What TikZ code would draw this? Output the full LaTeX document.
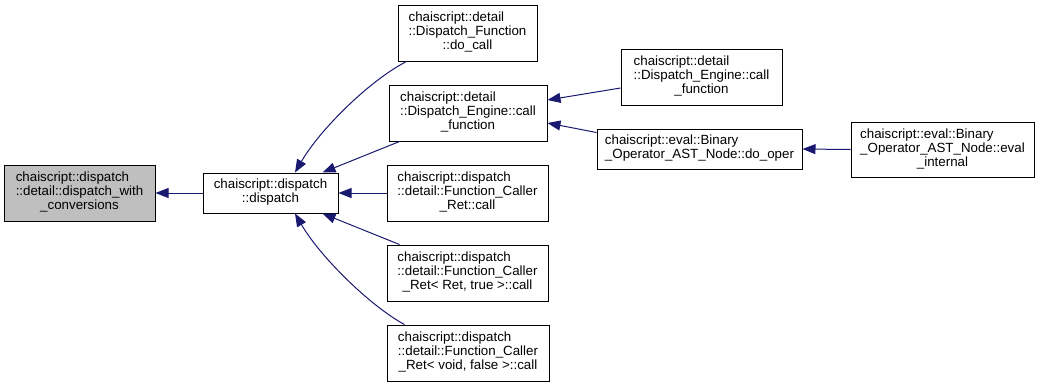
\documentclass[tikz,border=0pt]{standalone}
\usepackage{fontspec}
\setmainfont{Liberation Sans}
\usetikzlibrary{arrows.meta}
\definecolor{edgeblue}{RGB}{25,25,112}
\definecolor{selgray}{RGB}{191,191,191}
\def\px{0.75pt}
% leading lines flush left, last line centred
\newcommand{\fnlbl}[2]{\begin{tabular}{@{}l@{}}#1\\\multicolumn{1}{@{}c@{}}{#2}\end{tabular}}
\begin{document}
\begin{tikzpicture}[x=\px,y=-\px,line join=miter,
	font=\fontsize{10pt}{10.5pt}\selectfont,
	fn/.style={draw=black,line width=\px,fill=white,inner sep=0pt},
	edge/.style={draw=edgeblue,line width=\px,-{Triangle[length=9.75pt,width=7.5pt]}}]
	\useasboundingbox (0,0) rectangle (1040,387);
	% the function itself and its direct caller
	\node[fn,fill=selgray,minimum width=151*\px,minimum height=56*\px] (conv) at (79.5,193)
		{\fnlbl{chaiscript::dispatch\\::detail::dispatch\_with}{\_conversions}};
	\node[fn,minimum width=135*\px,minimum height=40*\px] (dispatch) at (270.5,193)
		{\fnlbl{chaiscript::dispatch}{::dispatch}};
	% callers of dispatch
	\node[fn,minimum width=139*\px,minimum height=56*\px] (docall) at (467.5,33)
		{\fnlbl{chaiscript::detail\\::Dispatch\_Function}{::do\_call}};
	\node[fn,minimum width=158*\px,minimum height=56*\px] (callfn) at (468,113)
		{\fnlbl{chaiscript::detail\\::Dispatch\_Engine::call}{\_function}};
	\node[fn,minimum width=161*\px,minimum height=56*\px] (retcall) at (467.5,193)
		{\fnlbl{chaiscript::dispatch\\::detail::Function\_Caller}{\_Ret::call}};
	\node[fn,minimum width=161*\px,minimum height=56*\px] (rettrue) at (467.5,273)
		{\fnlbl{chaiscript::dispatch\\::detail::Function\_Caller}{\_Ret< Ret, true >::call}};
	\node[fn,minimum width=162*\px,minimum height=56*\px] (retvoid) at (468,353)
		{\fnlbl{chaiscript::dispatch\\::detail::Function\_Caller}{\_Ret< void, false >::call}};
	% callers of call_function
	\node[fn,minimum width=161*\px,minimum height=56*\px] (callfntwo) at (701.5,77)
		{\fnlbl{chaiscript::detail\\::Dispatch\_Engine::call}{\_function}};
	\node[fn,minimum width=205*\px,minimum height=40*\px] (dooper) at (699.5,149)
		{\fnlbl{chaiscript::eval::Binary}{\_Operator\_AST\_Node::do\_oper}};
	\node[fn,minimum width=183*\px,minimum height=55*\px] (evalint) at (942.5,149.5)
		{\fnlbl{chaiscript::eval::Binary\\\_Operator\_AST\_Node::eval}{\_internal}};
	% edges point from caller to callee
	\draw[edge] (dispatch.west) -- (conv.east);
	\draw[edge] ([xshift=9*\px]docall.south west) .. controls +(-37,19) and +(25,-43) .. ([xshift=24.5*\px]dispatch.north);
	\draw[edge] ([xshift=11*\px]callfn.south west) -- ([xshift=-16*\px]dispatch.north east);
	\draw[edge] (retcall.west) -- (dispatch.east);
	\draw[edge] ([xshift=13*\px]rettrue.north west) -- ([xshift=-16*\px]dispatch.south east);
	\draw[edge] ([xshift=18*\px]retvoid.north west) .. controls +(-35,-19) and +(25,43) .. ([xshift=24.5*\px]dispatch.south);
	\draw[edge] ([yshift=-11*\px]callfntwo.west) -- ([yshift=13*\px]callfn.east);
	\draw[edge] ([yshift=-4*\px]dooper.north west) -- ([yshift=-10*\px]callfn.east);
	\draw[edge] (evalint.west) -- (dooper.east);
\end{tikzpicture}
\end{document}
